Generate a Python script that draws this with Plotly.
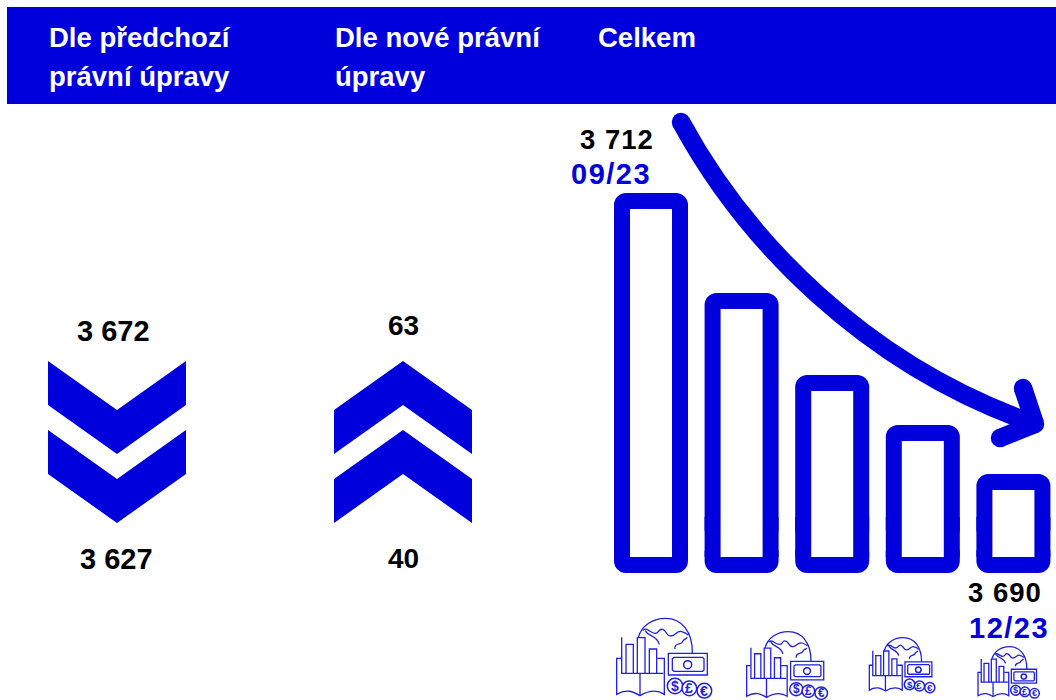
import plotly.graph_objects as go

BLUE = "#0000DC"
ICON = "#2020E4"
FONT = "Liberation Sans, Arial, sans-serif"

# ---- data
bar_categories = ["09/23", "10/23", "11/23 a", "11/23 b", "12/23"]
bar_values = [3712, 3704.17, 3697.75, 3693.84, 3690]
axis_floor = 3682.25
old_rule_labels = ["3 672", "3 627"]
new_rule_labels = ["63", "40"]
total_labels = ["3 712", "3 690"]
date_labels = ["09/23", "12/23"]
header_lines = ["Dle předchozí", "právní úpravy", "Dle nové právní", "úpravy", "Celkem"]

W, H = 1056, 700
shapes = []
ann = []


def text(x, y, s, size=29, color="black", anchor="center"):
    ann.append(dict(x=x, y=y, xref="x", yref="y", text=s, showarrow=False, xanchor=anchor,
                    yanchor="middle", font=dict(family=FONT, size=size, color=color, weight="bold"),
                    align="left"))


def poly(pts):
    d = "M " + " L ".join(f"{x} {y}" for x, y in pts) + " Z"
    shapes.append(dict(type="path", path=d, xref="x", yref="y", fillcolor=BLUE, line_width=0, layer="above"))


def disc(cx, cy, r):
    shapes.append(dict(type="circle", xref="x", yref="y", x0=cx - r, x1=cx + r, y0=cy - r, y1=cy + r,
                       fillcolor=BLUE, line_width=0, layer="above"))


def stroke(d, width):
    shapes.append(dict(type="path", path=d, xref="x", yref="y", line=dict(color=BLUE, width=width),
                       fillcolor="rgba(0,0,0,0)", layer="above"))


# header band
shapes.append(dict(type="rect", xref="x", yref="y", x0=7, x1=1056, y0=7, y1=104, fillcolor=BLUE, line_width=0, layer="below"))


def chevron(x0, top, up):
    w, d, t = 138, 49, 44
    if up:
        poly([(x0, top + d), (x0 + w / 2, top), (x0 + w, top + d), (x0 + w, top + d + t), (x0 + w / 2, top + t), (x0, top + d + t)])
    else:
        poly([(x0, top), (x0 + w / 2, top + d), (x0 + w, top), (x0 + w, top + t), (x0 + w / 2, top + d + t), (x0, top + t)])


for t in (361, 430):
    chevron(48, t, False)
    chevron(334, t, True)

# big arrow
tip = (1035, 424)
stroke(f"M 681 122 C 745 240 865 365 {tip[0]} {tip[1]}", 18.5)
stroke(f"M 1023 388 L {tip[0]} {tip[1]} M {tip[0]} {tip[1]} L 1000 438", 18.5)
for c in [(681, 122), (1023, 388), tip, (1000, 438)]:
    disc(c[0], c[1], 9.25)


def icon(left, top, k):
    def X(z):
        return 600 + (left + (z - 50) * k) / 3

    def Y(z):
        return 600 + (top + (z - 55) * k) / 3

    def line(d):
        toks = d.split()
        out = []
        i = 0
        while i < len(toks):
            if toks[i].isalpha():
                out.append(toks[i])
                i += 1
            else:
                out.append(f"{X(float(toks[i])):.2f} {Y(float(toks[i + 1])):.2f}")
                i += 2
        shapes.append(dict(type="path", path=" ".join(out), xref="x", yref="y",
                           line=dict(color=ICON, width=1.3), fillcolor="rgba(0,0,0,0)", layer="above"))

    def circ(cx, cy, r):
        shapes.append(dict(type="circle", xref="x", yref="y", x0=X(cx - r), x1=X(cx + r), y0=Y(cy - r), y1=Y(cy + r),
                           line=dict(color=ICON, width=1.5), fillcolor="white", layer="above"))

    # globe
    line("M 115 112 C 125 75 160 55 197 55 C 245 55 278 95 277 160")
    line("M 128 92 C 140 78 150 100 165 100 C 178 100 175 85 188 88 C 200 92 198 108 212 108 C 228 108 230 90 245 95 C 252 97 258 100 265 105")
    line("M 135 92 C 148 112 170 105 178 133")
    line("M 225 147 C 220 128 245 135 248 125 C 250 118 258 118 262 112")
    # bars and frame
    line("M 65 112 L 65 220 L 190 220")
    line("M 78 220 L 78 133 L 100 133 L 100 220")
    line("M 112 220 L 112 113 L 135 113 L 135 220")
    line("M 148 220 L 148 147 L 170 147 L 170 220")
    # book
    line("M 65 175 L 50 175 L 50 283 C 80 265 100 275 120 287 C 140 275 165 265 193 283 L 193 175 L 172 175")
    line("M 120 220 L 120 287")
    # bank note
    line("M 205 160 L 322 160 L 322 225 L 205 225 Z")
    line("M 222 172 L 308 172 L 312 176 L 312 210 L 308 214 L 222 214 L 217 210 L 217 176 Z")
    circ(263, 194, 12)
    # coins
    for cx, cy, r, sym in [(225, 258, 23, "$"), (268, 265, 22, "£"), (313, 272, 22, "€")]:
        circ(cx, cy, r)
        ann.append(dict(x=X(cx), y=Y(cy), xref="x", yref="y", text=sym, showarrow=False,
                        font=dict(family=FONT, size=14 * k, color=ICON, weight="bold")))


icon(50, 55, 1.0)
icon(440, 95, 0.85)
icon(808, 113, 0.69)
icon(1134, 140, 0.645)

# texts
LX1, LX2, LX3 = 47, 333, 596
text(LX1, 37.5, header_lines[0], 27.5, "white", "left")
text(LX1, 76.5, header_lines[1], 27.5, "white", "left")
text(LX2, 37.5, header_lines[2], 27.5, "white", "left")
text(LX2, 76.5, header_lines[3], 27.5, "white", "left")
text(LX3, 37.5, header_lines[4], 27.5, "white", "left")
text(113, 331, old_rule_labels[0])
text(116, 559, old_rule_labels[1])
text(403, 325.5, new_rule_labels[0], 28)
text(403, 558.5, new_rule_labels[1], 28)
text(614.5, 139, total_labels[0], 27.5)
text(607.5, 174, date_labels[0], 29, BLUE)
text(1002, 592, total_labels[1], 27.5)
text(1005.5, 628, date_labels[1], 29, BLUE)

# bars: rounded foot, straight band, rounded-top body, white interior
px = 90.6
first = 651
scale = (474 - 193) / (bar_values[0] - bar_values[-1])  # px per unit
stroke_units = 16 / scale
body_base = axis_floor + 2 * stroke_units
band_top = axis_floor + 3.5 * stroke_units

fig = go.Figure()
fig.add_trace(go.Scatter(x=[0], y=[0], xaxis="x", yaxis="y", mode="markers", marker_opacity=0, hoverinfo="skip"))
common = dict(x=bar_categories, xaxis="x2", yaxis="y2", cliponaxis=False)
fig.add_trace(go.Bar(y=[-(body_base - axis_floor)] * 5, base=body_base, width=74 / px, hoverinfo="skip",
                     marker=dict(color=BLUE, line_width=0, cornerradius=12), **common))
fig.add_trace(go.Bar(y=[v - body_base for v in bar_values], base=body_base, width=74 / px,
                     marker=dict(color=BLUE, line_width=0, cornerradius=12), **common))
fig.add_trace(go.Bar(y=[band_top - axis_floor - stroke_units] * 5, base=axis_floor + stroke_units, width=74 / px,
                     hoverinfo="skip", marker=dict(color=BLUE, line_width=0), **common))
fig.add_trace(go.Bar(y=[v - axis_floor - 2 * stroke_units for v in bar_values],
                     base=axis_floor + stroke_units, width=42 / px,
                     hoverinfo="skip", marker=dict(color="white", line_width=0), **common))

x2_left = first - px / 2
fig.update_layout(
    width=W, height=H, margin=dict(l=0, r=0, t=0, b=0), showlegend=False, barmode="overlay",
    paper_bgcolor="white", plot_bgcolor="rgba(0,0,0,0)",
    xaxis=dict(range=[0, W], visible=False, domain=[0, 1], fixedrange=True),
    yaxis=dict(range=[H, 0], visible=False, domain=[0, 1], fixedrange=True),
    xaxis2=dict(domain=[x2_left / W, 1], range=[-0.5, -0.5 + (W - x2_left) / px], type="category",
                categoryorder="array", categoryarray=bar_categories, visible=False, anchor="y2", fixedrange=True),
    yaxis2=dict(domain=[0, 1], range=[axis_floor - (H - 573) / scale, axis_floor + 573 / scale],
                visible=False, anchor="x2", fixedrange=True),
    shapes=shapes, annotations=ann,
)
post = """
document.body.style.margin='0';
var sp={'3 712':'1px','3 690':'1px','09/23':'1.5px','12/23':'1.5px'};
document.querySelectorAll('.annotation-text').forEach(function(t){
  if(sp[t.textContent]){t.style.letterSpacing=sp[t.textContent];}
});
"""
fig.write_html("out.html", config=dict(displayModeBar=False), post_script=post)
